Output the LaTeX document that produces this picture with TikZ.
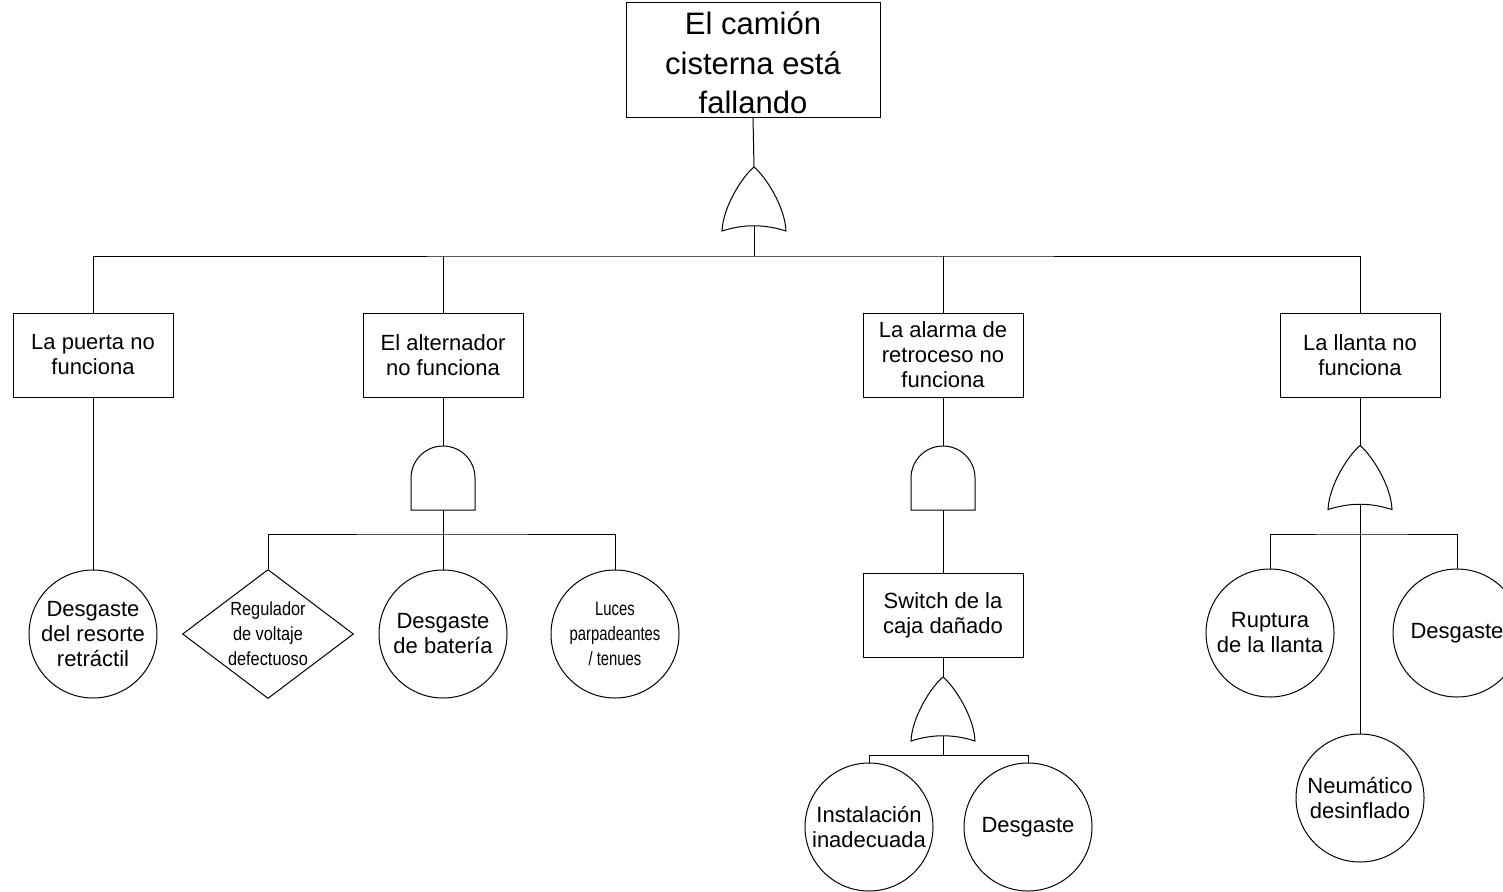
\documentclass[tikz,border=0pt]{standalone}
\usepackage{fontspec}
\setmainfont{Liberation Sans}
\newfontfamily\narrowfont[FakeStretch=0.86]{Liberation Sans}
\newfontfamily\narrowerfont[FakeStretch=0.76]{Liberation Sans}
\usetikzlibrary{shapes.geometric,calc}

\tikzset{
  wire/.style={line width=1pt, black},
  event/.style={draw, line width=1pt, rectangle, minimum width=160pt, minimum height=84pt,
    inner sep=0pt, align=center, font=\fontsize{22}{25}\selectfont},
  basic/.style={draw, line width=1pt, circle, minimum size=128pt, inner sep=0pt,
    align=center, font=\fontsize{22}{25}\selectfont},
  basicnarrow/.style={basic, font=\narrowerfont\fontsize{19.5}{25}\selectfont},
  undeveloped/.style={draw, line width=1pt, diamond, minimum width=171pt, minimum height=129pt,
    inner sep=0pt},
  narrowtext/.style={inner sep=0pt, align=center, font=\narrowfont\fontsize{19}{25}\selectfont},
  toptext/.style={inner sep=0pt, align=center, font=\fontsize{31}{39.5}\selectfont},
  gatebox/.style={rectangle, minimum width=64pt, minimum height=64pt, inner sep=0pt, outer sep=0pt},
  gateline/.style={line width=1pt, draw=black, fill=white},
}

% OR gate drawn inside a gatebox node
\newcommand\orgate[1]{%
  \path[gateline] (#1.south west)
    .. controls ($(#1.south west)+(1,-24)$) and ($(#1.north)+(-12,10)$) .. (#1.north)
    .. controls ($(#1.north)+(12,10)$) and ($(#1.south east)+(-1,-24)$) .. (#1.south east)
    .. controls ($(#1.south)+(10,-7)$) and ($(#1.south)+(-10,-7)$) .. cycle;}
% AND gate drawn inside a gatebox node
\newcommand\andgate[1]{%
  \path[gateline] (#1.south west) -- ($(#1.south west)+(0,-32)$)
    arc[start angle=180, end angle=360, radius=32] -- (#1.south east) -- cycle;}

\begin{document}
\begin{tikzpicture}[x=1pt,y=-1pt]
\useasboundingbox (0,0) rectangle (1503,891);
\fill[white] (0,0) rectangle (1503,891);
\clip (0,0) rectangle (1503,891);

% top event
\node[draw, line width=1pt, rectangle, minimum width=254pt, minimum height=114pt, inner sep=0pt]
  (top) at (753,60) {};
\node[toptext] (toptxt) at ($(top.center)+(0,3)$) {El camión\\cisterna está\\fallando};
\node[gatebox] (g0) at (754,199) {};
\coordinate (bar0) at (754,256);

% intermediate events
\node[event] (puerta) at (93,355) {La puerta no\\funciona};
\node[event] (alt) at (443,355) {El alternador\\no funciona};
\node[event] (alarma) at (943,355) {La alarma de\\retroceso no\\funciona};
\node[event] (llanta) at (1360,355) {La llanta no\\funciona};

% door branch
\node[basic] (resorte) at (93,634) {Desgaste\\del resorte\\retráctil};

% alternator branch
\node[gatebox] (g1) at (443,478) {};
\coordinate (bar1) at (443,534);
\node[undeveloped] (reg) at (268,634) {};
\node[narrowtext] (regtxt) at (reg.center) {Regulador\\de voltaje\\defectuoso};
\node[basic] (bateria) at (443,634) {Desgaste\\de batería};
\node[basicnarrow] (luces) at (615,634) {Luces\\parpadeantes\\/ tenues};

% reverse alarm branch
\node[gatebox] (g2) at (943,478) {};
\node[event] (switch) at (943,615) {Switch de la\\caja dañado};
\node[gatebox] (g3) at (943,709) {};
\coordinate (bar3) at (943,755);
\node[basic] (inst) at (869,827) {Instalación\\inadecuada};
\node[basic] (desg2) at (1028,827) {Desgaste};

% tyre branch
\node[gatebox] (g4) at (1360,477.5) {};
\coordinate (bar4) at (1360,534);
\node[basic] (rupt) at (1270,633) {Ruptura\\de la llanta};
\node[basic] (desg3) at (1457,633) {Desgaste};
\node[basic] (neum) at (1360,798) {Neumático\\desinflado};

% connectors
\draw[wire] (top.south) -- (g0.north);
\draw[wire] ($(g0.south)+(0,-5)$) -- (bar0);
\draw[wire] (puerta.north) |- (bar0) -| (llanta.north);
\draw[wire] (alt.north) -- (alt.north |- bar0);
\draw[wire] (alarma.north) -- (alarma.north |- bar0);

\draw[wire] (puerta.south) -- (resorte.north);

\draw[wire] (alt.south) -- (g1.north);
\draw[wire] (g1.south) -- (bateria.north);
\draw[wire] (reg.north) |- (bar1) -| (luces.north);

\draw[wire] (alarma.south) -- (g2.north);
\draw[wire] (g2.south) -- (switch.north);
\draw[wire] (switch.south) -- (g3.north);
\draw[wire] ($(g3.south)+(0,-5)$) -- (bar3);
\draw[wire] (inst.north) |- (bar3) -| (desg2.north);

\draw[wire] (llanta.south) -- (g4.north);
\draw[wire] ($(g4.south)+(0,-5)$) -- (neum.north);
\draw[wire] (rupt.north) |- (bar4) -| (desg3.north);

% gates
\orgate{g0}
\andgate{g1}
\andgate{g2}
\orgate{g3}
\orgate{g4}
\end{tikzpicture}
\end{document}
